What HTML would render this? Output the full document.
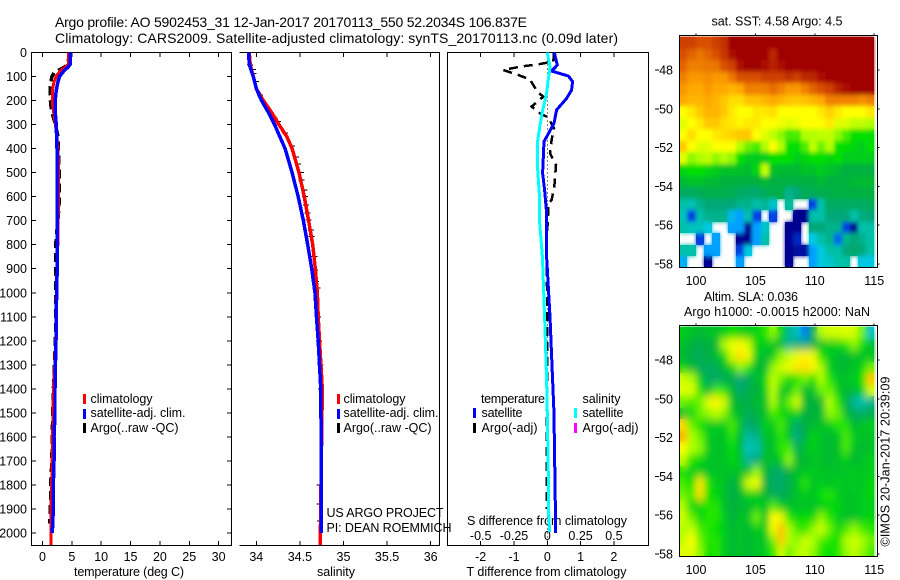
<!DOCTYPE html>
<html lang="en">
<head>
<meta charset="utf-8">
<title>Argo profile chart</title>
<style>
html,body{margin:0;padding:0;background:#fff;width:900px;height:580px;overflow:hidden}
svg{display:block}
text{font-family:"Liberation Sans",sans-serif;font-size:12.5px;fill:#000}
.title{font-size:14px}
</style>
</head>
<body>
<svg id="chart" width="900" height="580" viewBox="0 0 900 580" xmlns="http://www.w3.org/2000/svg">
  <defs>
    <filter id="soft" x="-5%" y="-5%" width="110%" height="110%"><feGaussianBlur stdDeviation="3.5 4.5"/></filter>
    <filter id="soft-sst" x="-5%" y="-5%" width="110%" height="110%"><feGaussianBlur stdDeviation="1.8 2.4"/></filter>
    <clipPath id="clip-sst"><rect x="679.5" y="36" width="196.5" height="231"/></clipPath>
    <clipPath id="clip-sla"><rect x="679.5" y="325" width="196.5" height="231.5"/></clipPath>
  </defs>
  <text class="title" x="55" y="27" textLength="472" lengthAdjust="spacing">Argo profile: AO 5902453_31 12-Jan-2017 20170113_550 52.2034S 106.837E</text>
  <text class="title" x="55" y="43" textLength="563" lengthAdjust="spacing">Climatology: CARS2009. Satellite-adjusted climatology: synTS_20170113.nc (0.09d later)</text>

  <text x="129" y="576" text-anchor="middle" textLength="110">temperature (deg C)</text>
  <text x="336" y="576" text-anchor="middle" textLength="38">salinity</text>
  <text x="546.5" y="576" text-anchor="middle" textLength="160">T difference from climatology</text>
  <text x="547" y="525" text-anchor="middle" textLength="160">S difference from climatology</text>

  <g>
    <rect x="83" y="394" width="3" height="10" fill="#f00"/>
    <text x="90.5" y="403" textLength="62">climatology</text>
    <rect x="83" y="409" width="3" height="10" fill="#00f"/>
    <text x="90.5" y="417" textLength="95">satellite-adj. clim.</text>
    <rect x="83" y="423" width="3" height="10" fill="#000"/>
    <text x="90.5" y="432" textLength="88">Argo(..raw -QC)</text>
  </g>
  <g>
    <rect x="337" y="394" width="3" height="10" fill="#f00"/>
    <text x="343.5" y="403" textLength="62">climatology</text>
    <rect x="337" y="409" width="3" height="10" fill="#00f"/>
    <text x="343.5" y="417" textLength="95">satellite-adj. clim.</text>
    <rect x="337" y="423" width="3" height="10" fill="#000"/>
    <text x="343.5" y="432" textLength="88">Argo(..raw -QC)</text>
  </g>
  <g>
    <text x="481" y="403" textLength="64">temperature</text>
    <text x="582.5" y="403" textLength="38">salinity</text>
    <rect x="473" y="408" width="3" height="10" fill="#00f"/>
    <text x="481.5" y="417" textLength="41">satellite</text>
    <rect x="473" y="423" width="3" height="10" fill="#000"/>
    <text x="481.5" y="432" textLength="56">Argo(-adj)</text>
    <rect x="574" y="408" width="3" height="10" fill="#0ff"/>
    <text x="582.5" y="417" textLength="41">satellite</text>
    <rect x="574" y="423" width="3" height="10" fill="#f0f"/>
    <text x="582.5" y="432" textLength="56">Argo(-adj)</text>
  </g>
  <text x="326.5" y="517" textLength="117">US ARGO PROJECT</text>
  <text x="326.5" y="532" textLength="125">PI: DEAN ROEMMICH</text>

  <text x="777" y="25.5" text-anchor="middle" textLength="131">sat. SST: 4.58 Argo: 4.5</text>
  <text x="751" y="301" text-anchor="middle" textLength="94">Altim. SLA: 0.036</text>
  <text x="777" y="316" text-anchor="middle" textLength="186">Argo h1000: -0.0015 h2000: NaN</text>
  <text transform="translate(889.5,546.5) rotate(-90)" textLength="170">©IMOS 20-Jan-2017 20:39:09</text>
</svg>
<script>
// ---------- Axis ticks ----------
const depthTicks = [0,100,200,300,400,500,600,700,800,900,1000,1100,1200,1300,1400,1500,1600,1700,1800,1900,2000];
const tempTicks = [0,5,10,15,20,25,30];
const salTicks = [34,34.5,35,35.5,36];
const tDiffTicks = [-2,-1,0,1,2];
const sDiffTicks = [-0.5,-0.25,0,0.25,0.5];
const lonTicks = [100,105,110,115];
const latTicks = [48,50,52,54,56,58];

// ---------- Temperature profiles ----------
const tempDepths = [0,25,50,60,75,100,125,150,175,200,225,250,275,300,350,400,500,600,700,800,900,1000,1100,1200,1300,1400,1500,1600,1700,1800,1900,2000,2050];
const climTemp = [4.46,4.46,4.4,3.9,3.1,2.3,1.95,1.74,1.68,1.67,1.75,1.9,2.05,2.2,2.45,2.64,2.76,2.76,2.65,2.6,2.45,2.35,2.3,2.25,2.1,1.85,1.8,1.72,1.65,1.55,1.45,1.45,1.45];
const satTemp = [4.75,4.75,4.7,4.4,3.7,2.9,2.6,2.4,2.25,2.18,2.18,2.18,2.25,2.35,2.4,2.47,2.47,2.47,2.52,2.55,2.5,2.4,2.35,2.3,2.2,2.13,2.13,1.96,1.96,1.84,1.84,1.67];
const argoTempDepths = [0,25,50,60,75,85,100,125,150,175,200,225,240,270,300,350,400,450,500,550,600,650,700,800,900,1000,1100,1200,1300,1400,1500,1600,1700,1800,1900,1960];
const argoTemp = [4.5,4.5,4.2,3.8,2.6,2.0,1.6,1.4,1.3,1.3,1.35,1.45,1.5,1.85,2.2,2.64,2.7,2.78,2.82,2.85,2.85,2.8,2.6,2.25,2.25,2.3,2.25,2.2,2.05,1.85,1.75,1.65,1.6,1.4,1.35,1.25];

// ---------- Salinity profiles ----------
const salDepths = [0,50,100,150,200,250,300,350,400,500,600,700,800,900,1000,1100,1200,1400,1700,2000,2050];
const climSal = [33.92,33.93,33.966,34.0,34.08,34.177,34.26,34.35,34.41,34.49,34.55,34.6,34.647,34.677,34.7,34.71,34.725,34.757,34.745,34.735,34.735];
const satSal = [33.91,33.92,33.966,34.0,34.06,34.14,34.21,34.27,34.33,34.41,34.48,34.54,34.59,34.635,34.673,34.69,34.71,34.74,34.745,34.745];
const argoSalDepths = [52,70,87,121,177,205,273,288,336,389,436,464,500,530,572,600,635,668,697,739,766,850,905,954,980,1100,1200,1300,1400,1800,1880,1950];
const argoSal = [33.93,33.96,33.97,33.996,34.04,34.08,34.21,34.25,34.33,34.41,34.455,34.48,34.51,34.52,34.55,34.56,34.57,34.59,34.6,34.625,34.635,34.665,34.675,34.685,34.7,34.71,34.72,34.735,34.74,34.727,34.727,34.73];

// ---------- Difference profiles ----------
const satDiffTDepths = [0,52,77,98,121,156,191,239,295,371,502,572,668,850,1100,1363,1501,1600,1875,2000];
const satDiffT = [0.21,0.3,0.13,0.63,0.76,0.73,0.58,0.28,0.2,-0.1,-0.14,-0.08,-0.02,-0.02,0.08,0.16,0.2,0.21,0.24,0.25];
const satDiffSDepths = [0,59,100,170,253,322,378,489,586,710,850,1100,1363,1497,1780,1917,1996];
const satDiffS = [0,0.02,0.01,-0.005,-0.04,-0.06,-0.075,-0.072,-0.06,-0.057,-0.037,-0.02,-0.005,0,0.008,0.01,0.018];
const argoDiffTDepths = [0,38,48,59,73,91,112,163,184,225,253,271,316,364,420,468,559,614,628,800,1100,1400,1500,1600,1900];
const argoDiffT = [0.2,0.18,-0.22,-0.82,-1.32,-0.92,-0.52,-0.3,-0.12,-0.47,-0.22,0.03,0.2,0.13,0.08,0.26,0.21,0.13,0.04,-0.02,0,-0.01,-0.02,-0.02,-0.02];

// ---------- Map data ----------
const _ = null;
const sstGrid = [
[8.2,8.2,8,8,8.2,8.4,9,9,9,9,9,9,9,9,9,9,9,9,9,9,9,9,9,9],
[8,7.8,7.6,7.8,8,8.3,8.8,9,9,9,9,8.5,9,9,9,9,9,9,9,9,9,9,9,9],
[7.8,7.5,7.5,7.6,7.6,8,8.2,8.8,9,9,8.8,8.6,8.8,9,9,9,9,9,9,9,9,9,9,9],
[7.5,7.2,7.2,7.3,7.2,7.2,7.6,8,8,8,8.2,8.2,8.2,8.4,8.2,8.5,8.5,8.8,9,9,9,9,9,9],
[7.2,7,7,7.2,7,7,6.8,7,7.5,7.5,7.5,7.7,7.5,7.2,7.2,7.5,7.8,8,8.2,8.6,8.8,9,9,9],
[7,6.8,6.8,7,6.8,6.5,6.3,6.3,6.6,6.6,6.8,7,6.8,6.6,6.5,6.6,6.8,7,7.5,7.5,7.5,7.5,7.3,7.5],
[6,6.2,6.5,6.8,6.8,6.5,6.2,6,6,6.2,6.2,6.3,6,6,6,6,6,6.2,6.4,6.2,6,6,6,6.2],
[5.8,6,6.2,6.5,6.5,6.3,6.2,6.1,6.2,6.2,6,6,5.9,5.8,5.9,6,6,6,6.2,5.8,5.8,5.6,5.6,5.5],
[6,6.3,6,6,6.2,6.3,6.4,6.5,6.5,6,5.8,5.6,5.4,5.2,5.2,5.5,5.5,5.6,5.6,5.4,5.2,5,5,5],
[6.5,6,5.8,5.8,6,6,6,5.5,5.3,5.2,5.5,6,5.5,5,5,5.2,5.6,5.3,5.5,5,5,4.9,4.8,5],
[5.8,5.4,5.5,5.6,5.4,5.5,5.4,5,4.8,4.8,4.8,5,5,5,4.8,4.9,5,5,4.9,5,4.8,4.8,4.8,4.8],
[4.9,5,5,4.9,4.8,4.7,4.7,4.7,4.6,4.9,5.6,4.7,4.6,4.6,4.6,4.7,4.7,4.8,4.7,4.6,4.5,4.5,4.5,4.5],
[4.6,4.7,4.7,4.6,4.6,4.5,4.5,4.5,4.5,4.5,4.6,4.5,4.5,4.5,4.5,4.5,4.5,4.6,4.5,4.5,4.5,4.6,4.6,4.6],
[4.2,4.2,4.3,4.4,4.4,4.4,4.3,4.2,4.1,4.1,4.3,4.4,4.4,3.8,4,4.3,4.3,4.4,4.4,4.5,4.5,4.5,4.5,4.5],
[3.5,3.4,3.8,4,4,4,4,3.8,3.8,3.5,3.7,3.2,_,3.6,_,_,2,3.5,4.2,4.2,4.2,4.2,4.2,4.3],
[3.3,2,3.5,3.8,3.8,3.8,2.8,2.5,3.5,2,_,2,_,_,1.5,1.5,3.5,3.5,4,4,4,3.5,3.9,4],
[3.5,3.3,3.3,3,_,_,2.5,2.5,1.5,2.5,3.2,_,_,1.5,1.5,_,4,4,3.8,3.8,2,1.5,3.5,3.5],
[_,_,2,_,2.5,_,_,1.5,1.5,2.5,3.5,_,_,1.5,1.8,_,3,3.5,3.8,2.2,3.8,4,3.8,3.5],
[3.5,3.5,_,2.5,2.5,_,_,2,3,_,_,_,_,1.5,1.6,1.6,2.5,3,3.5,3.5,4,4.1,4,3.5],
[2.7,_,_,1.5,_,_,_,2.5,_,_,_,_,_,1.5,_,_,2.5,3,3.2,3.5,3.5,_,3,3]
];
const slaGridCm = [
[3,2,1,2,2,3,5,4,3,4,6,9,4,-8,-12,-22,-2,10,12,12,13,12,8,-12],
[2,0,-1,0,1,10,14,15,12,4,3,2,1,-8,-5,-6,-1,2,3,4,6,9,5,2],
[1,-1,-2,0,1,4,12,18,14,3,1,3,9,11,14,16,14,6,3,1,1,2,2,2],
[4,1,-2,-3,-2,1,4,9,6,1,1,9,12,14,17,18,16,10,3,1,1,2,4,8],
[12,10,3,-3,-3,-2,-1,-5,-2,1,4,11,8,4,6,8,5,10,6,2,2,3,5,20],
[13,13,6,1,7,6,1,-4,-1,0,3,11,3,2,8,1,2,8,8,3,1,1,3,12],
[8,7,8,13,16,12,2,0,-1,1,2,10,3,8,12,1,0,1,10,6,0,-8,-11,-7],
[1,4,8,9,11,9,3,1,-2,0,2,7,5,3,4,0,0,1,9,8,1,-2,-3,-1],
[18,8,5,3,3,3,7,2,-5,-2,3,3,7,2,-4,0,1,2,3,6,6,1,2,3],
[25,10,8,3,2,2,6,1,-9,-7,2,2,6,2,-6,0,4,2,1,2,7,3,2,2],
[15,10,9,3,2,2,5,1,-12,-10,1,2,6,7,-2,2,3,2,1,2,7,2,1,2],
[11,6,4,2,2,2,4,2,-8,-5,2,1,3,9,1,1,2,2,1,2,3,1,2,3],
[5,3,3,2,2,2,2,2,2,9,1,-3,-3,0,2,2,3,2,2,2,2,3,2,3],
[7,5,17,6,3,2,0,2,12,14,0,-3,-4,-1,2,6,2,3,2,3,2,3,2,4],
[8,7,18,5,4,2,-1,1,4,3,1,-2,-2,0,2,3,2,5,6,3,2,2,3,4],
[10,4,4,6,6,2,0,1,1,3,2,7,3,2,2,2,2,3,4,4,2,2,3,3],
[12,8,4,6,6,3,0,2,2,8,2,15,14,6,4,5,4,9,6,3,2,2,3,4],
[10,11,7,6,5,3,1,2,1,3,3,14,22,10,7,6,9,12,8,4,7,9,7,6],
[11,15,8,6,6,3,1,2,1,2,2,8,20,10,9,12,10,7,6,5,10,12,10,8],
[13,13,9,5,6,3,1,2,1,2,3,6,12,8,10,11,9,6,5,6,9,11,9,7]
];

// ---------- Scales ----------
const SVGNS = 'http://www.w3.org/2000/svg';
const svg = document.getElementById('chart');
const depthY = d => 52.5 + d * 0.24025;
const tempX = t => 42.5 + t * 5.87;
const salX = s => 256.3 + (s - 34) * 87.2;
const tDiffX = v => 547.3 + v * 33.3;
const sDiffX = v => 547.3 + v * 133.2;
const lonX = lon => 696 + (lon - 100) * 11.88;
const sstLatY = lat => 70 + (lat - 48) * 19.4;
const slaLatY = lat => 360 + (lat - 48) * 19.4;
const lonStart = 98.6, lonEnd = 115;
const latStart = 46.3, latEnd = 58.2;

const colorStops = [
  [1.5,[0,0,144]],[2,[0,64,224]],[2.5,[0,160,255]],[3,[0,200,224]],[3.5,[0,192,168]],
  [4,[0,168,120]],[4.5,[0,176,64]],[5,[0,224,0]],[5.5,[176,255,0]],[6,[255,255,0]],
  [6.5,[255,200,0]],[7,[255,168,0]],[7.5,[240,128,0]],[8,[216,80,0]],[9,[160,0,0]]
];
function levelColor(v){
  if(v <= colorStops[0][0]) return 'rgb(' + colorStops[0][1].join(',') + ')';
  for(let i = 1; i < colorStops.length; i++){
    if(v <= colorStops[i][0]){
      const a = colorStops[i-1], b = colorStops[i];
      const f = (v - a[0]) / (b[0] - a[0]);
      return 'rgb(' + a[1].map((c,k) => Math.round(c + (b[1][k] - c) * f)).join(',') + ')';
    }
  }
  return 'rgb(' + colorStops[colorStops.length-1][1].join(',') + ')';
}

function make(tag, attrs, parent){
  const n = document.createElementNS(SVGNS, tag);
  for(const k in attrs) n.setAttribute(k, attrs[k]);
  (parent || svg).appendChild(n);
  return n;
}
function tick(x1,y1,x2,y2){
  const l = make('line',{x1:x1,y1:y1,x2:x2,y2:y2,stroke:'#000','stroke-width':1,'shape-rendering':'crispEdges'});
  
  
  return l;
}
function label(txt,x,y,anchor){
  const t = make('text',{x:x,y:y,'text-anchor':anchor});
  t.textContent = txt;
  
  
  return t;
}
function profile(depths, values, xScale, color, width, dash){
  const pts = values.map((v,i) => xScale(v).toFixed(1) + ',' + depthY(depths[i]).toFixed(1)).join(' ');
  const attrs = {points:pts,fill:'none',stroke:color,'stroke-width':width,'shape-rendering':'crispEdges'};
  if(dash) attrs['stroke-dasharray'] = dash;
  return make('polyline',attrs);
}
function axisFrame(sides){
  return make('path',{d:sides,fill:'none',stroke:'#000','stroke-width':1,'shape-rendering':'crispEdges'});
}

// ---------- Temperature panel ----------
const tempFrame = axisFrame('M31.5 52.5H231.5V545.5H31.5Z');


depthTicks.forEach(d => {
  tick(31.5,depthY(d),36,depthY(d));
  tick(227,depthY(d),231.5,depthY(d));
  label(String(d),27,depthY(d)+4.5,'end');
});
tempTicks.forEach(t => {
  tick(tempX(t),52.5,tempX(t),57);
  tick(tempX(t),541,tempX(t),545.5);
  label(String(t),tempX(t),561,'middle');
});
const argoTempLine = profile(argoTempDepths,argoTemp,tempX,'#000',3.5,'9 5');


const climTempLine = profile(tempDepths,climTemp,tempX,'#f00',3);


const satTempLine = profile(tempDepths,satTemp,tempX,'#00f',3.5);



// ---------- Salinity panel ----------
const salFrame = axisFrame('M239.5 52.5H439.5V545.5H239.5');


salTicks.forEach(s => {
  tick(salX(s),52.5,salX(s),57);
  tick(salX(s),541,salX(s),545.5);
  label(String(s),salX(s),561,'middle');
});
argoSal.forEach((s,i) => {
  const m = make('line',{x1:salX(s)-3,x2:salX(s)+3,y1:depthY(argoSalDepths[i]),y2:depthY(argoSalDepths[i]),stroke:'#000','stroke-width':1,'shape-rendering':'crispEdges'});
  
  
});
const climSalLine = profile(salDepths,climSal,salX,'#f00',3.5);


const satSalLine = profile(salDepths,satSal,salX,'#00f',3.5);



// ---------- Difference panel ----------
const diffFrame = axisFrame('M447.5 52.5H648.5V545.5H447.5Z');


tDiffTicks.forEach(v => {
  tick(tDiffX(v),52.5,tDiffX(v),57);
  tick(tDiffX(v),541,tDiffX(v),545.5);
  label(String(v),tDiffX(v),561,'middle');
});
sDiffTicks.forEach(v => {
  label(String(v),sDiffX(v),540,'middle');
});
const zeroLine = make('line',{x1:tDiffX(0),x2:tDiffX(0),y1:52.5,y2:545.5,stroke:'#000','stroke-width':1,'stroke-dasharray':'1 3','shape-rendering':'crispEdges'});


const argoDiffLine = profile(argoDiffTDepths,argoDiffT,tDiffX,'#000',2.5,'9 6');


const satDiffTLine = profile(satDiffTDepths,satDiffT,tDiffX,'#00f',3);


const satDiffSLine = profile(satDiffSDepths,satDiffS,sDiffX,'#0ff',3);



// ---------- Maps ----------
function heatCells(grid, latY, toLevel, parent, cellName){
  const rows = grid.length, cols = grid[0].length;
  const dLon = (lonEnd - lonStart) / cols, dLat = (latEnd - latStart) / rows;
  grid.forEach((row,r) => row.forEach((v,c) => {
    if(v === null) return;
    const x0 = Math.round(lonX(lonStart + c * dLon)), x1 = Math.round(lonX(lonStart + (c + 1) * dLon));
    const y0 = Math.round(latY(latStart + r * dLat)), y1 = Math.round(latY(latStart + (r + 1) * dLat));
    const cell = make('rect',{x:x0,y:y0,width:x1-x0,height:y1-y0,fill:levelColor(toLevel(v)),'shape-rendering':'crispEdges'},parent);
    
    
  }));
}
function mapAxes(top,bottom,latY,labelBase){
  lonTicks.forEach(lon => {
    tick(lonX(lon),top-2,lonX(lon),top);
    label(String(lon),lonX(lon),labelBase,'middle');
  });
  latTicks.forEach(lat => {
    tick(655,latY(lat),659,latY(lat));
    tick(877.5,latY(lat),879.5,latY(lat));
    label(String(lat),673,latY(lat)+4.5,'end');
  });
}
const sstClip = make('g',{'clip-path':'url(#clip-sst)'});


const sstBase = make('g',{},sstClip);


heatCells(sstGrid,sstLatY,v => v,sstBase,'sst-cell');
const sstSoft = make('g',{filter:'url(#soft-sst)'},sstClip);


heatCells(sstGrid,sstLatY,v => v,sstSoft,'sst-cell');
const sstFrame = axisFrame('M679.5 35.5H877.5V267.5H679.5Z');


mapAxes(35.5,267.5,sstLatY,285);

const slaClip = make('g',{'clip-path':'url(#clip-sla)'});


const slaBase = make('g',{},slaClip);


heatCells(slaGridCm,slaLatY,cm => 4.5 + cm / 10,slaBase,'sla-cell');
const slaSoft = make('g',{filter:'url(#soft)'},slaClip);


heatCells(slaGridCm,slaLatY,cm => 4.5 + cm / 10,slaSoft,'sla-cell');
const slaFrame = axisFrame('M679.5 325.5H877.5V556.5H679.5Z');


mapAxes(325.5,556.5,slaLatY,574);
</script>
</body>
</html>
